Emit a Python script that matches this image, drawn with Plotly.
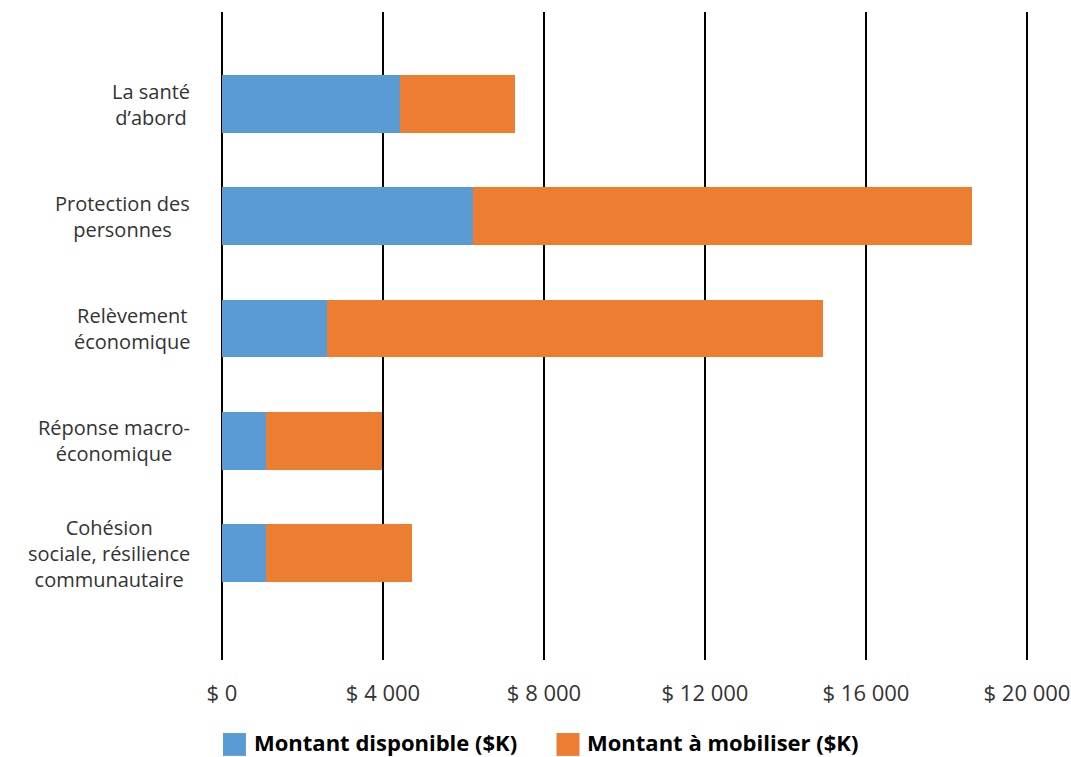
import plotly.graph_objects as go

categories = [
    "La santé<br>d’abord",
    "Protection des<br>personnes",
    "Relèvement<br>économique",
    "Réponse macro-<br>économique",
    "Cohésion<br>sociale, résilience<br>communautaire",
]
disponible = [4415, 6233, 2606, 1095, 1095]
a_mobiliser = [2855, 12413, 12329, 2888, 3635]
tick_vals = [0, 4000, 8000, 12000, 16000, 20000]
tick_text = ["$ 0", "$ 4 000", "$ 8 000", "$ 12 000", "$ 16 000", "$ 20 000"]
series_names = ["Montant disponible ($K)", "Montant à mobiliser ($K)"]
colors = ["#5B9BD5", "#ED7D31"]

cat_ids = list(range(len(categories)))

fig = go.Figure()
for name, vals, col in zip(series_names, [disponible, a_mobiliser], colors):
    fig.add_trace(go.Bar(
        y=cat_ids, x=vals, name=name, orientation="h",
        marker=dict(color=col, line=dict(width=0)),
        showlegend=False,
    ))

annotations = []
for i, lab in enumerate(categories):
    annotations.append(dict(
        xref="paper", yref="y", x=-0.037, y=i, text=lab,
        xanchor="right", yanchor="middle", align="center", showarrow=False,
        font=dict(family="Open Sans", size=20, color="#333333"),
    ))

# manual legend (built from trace names/colors)
leg_sq_x = [0.0012, 0.4135]
leg_txt_x = [0.0370, 0.4490]
shapes = []
for name, col, sx, tx in zip(series_names, colors, leg_sq_x, leg_txt_x):
    shapes.append(dict(type="rect", xref="paper", yref="paper",
                       x0=sx, x1=sx + 0.0284, y0=-0.148, y1=-0.1127,
                       fillcolor=col, line=dict(width=0)))
    annotations.append(dict(
        xref="paper", yref="paper", x=tx, y=-0.127, text="<b>" + name + "</b>",
        xanchor="left", yanchor="middle", showarrow=False,
        font=dict(family="Open Sans", size=22, color="#000000"),
    ))

fig.update_layout(
    width=1071, height=757,
    margin=dict(l=222, r=40, t=12, b=97),
    barmode="stack", bargap=0.486,
    plot_bgcolor="white", paper_bgcolor="white",
    annotations=annotations, shapes=shapes,
    showlegend=False,
    xaxis=dict(
        range=[0, 20100], tickvals=tick_vals, ticktext=tick_text,
        showgrid=True, gridcolor="#000000", gridwidth=2,
        zeroline=True, zerolinecolor="#000000", zerolinewidth=2,
        showline=False, ticks="", ticklabelstandoff=18, automargin=False,
        tickfont=dict(family="Open Sans", size=22, color="#333333"),
    ),
    yaxis=dict(
        range=[4.953, -0.82], showgrid=False, zeroline=False,
        showticklabels=False, ticks="", automargin=False,
    ),
)

fig.write_html("out.html")
